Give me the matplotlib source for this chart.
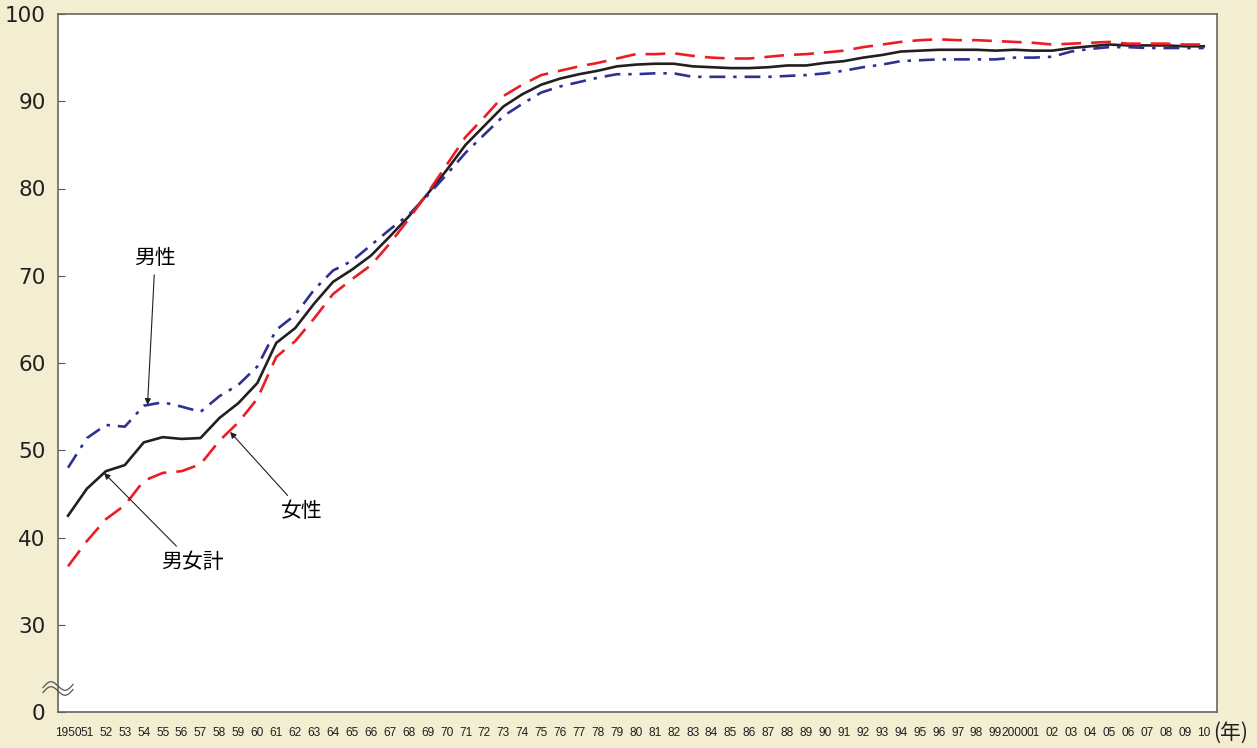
import numpy as np
import matplotlib
matplotlib.use('Agg')
import matplotlib.pyplot as plt
from matplotlib.lines import Line2D

# Data (high school entrance rate, %)
years = list(range(1950, 2011))
total = [42.5, 45.6, 47.6, 48.3, 50.9, 51.5, 51.3, 51.4, 53.7, 55.4,
         57.7, 62.3, 64.0, 66.8, 69.3, 70.7, 72.3, 74.5, 76.8, 79.4,
         82.1, 85.0, 87.2, 89.4, 90.8, 91.9, 92.6, 93.1, 93.5, 94.0,
         94.2, 94.3, 94.3, 94.0, 93.9, 93.8, 93.8, 93.9, 94.1, 94.1,
         94.4, 94.6, 95.0, 95.3, 95.7, 95.8, 95.9, 95.9, 95.9, 95.8,
         95.9, 95.8, 95.8, 96.1, 96.3, 96.5, 96.4, 96.4, 96.4, 96.3,
         96.3]
male = [48.0, 51.4, 52.9, 52.7, 55.1, 55.5, 55.0, 54.4, 56.2, 57.5,
        59.6, 63.8, 65.5, 68.4, 70.6, 71.7, 73.5, 75.3, 77.0, 79.2,
        81.6, 84.1, 86.2, 88.3, 89.7, 91.0, 91.7, 92.2, 92.7, 93.1,
        93.1, 93.2, 93.2, 92.8, 92.8, 92.8, 92.8, 92.8, 92.9, 93.0,
        93.2, 93.5, 93.9, 94.2, 94.6, 94.7, 94.8, 94.8, 94.8, 94.8,
        95.0, 95.0, 95.1, 95.7, 96.0, 96.2, 96.2, 96.1, 96.1, 96.1,
        96.1]
female = [36.7, 39.6, 42.1, 43.7, 46.5, 47.4, 47.6, 48.4, 51.1, 53.2,
          55.9, 60.7, 62.5, 65.1, 67.9, 69.6, 71.2, 73.7, 76.5, 79.5,
          82.7, 85.9, 88.2, 90.6, 91.9, 93.0, 93.5, 94.0, 94.4, 94.9,
          95.4, 95.4, 95.5, 95.2, 95.0, 94.9, 94.9, 95.1, 95.3, 95.4,
          95.6, 95.8, 96.2, 96.5, 96.8, 97.0, 97.1, 97.0, 97.0, 96.9,
          96.8, 96.7, 96.5, 96.6, 96.7, 96.8, 96.6, 96.6, 96.6, 96.5,
          96.5]

ytick_pos = [20, 30, 40, 50, 60, 70, 80, 90, 100]
ytick_labels = ['0', '30', '40', '50', '60', '70', '80', '90', '100']
xtick_labels = ['1950' if y == 1950 else '2000' if y == 2000 else '%02d' % (y % 100)
                for y in years]

BG = '#F3EDD1'
plt.rcParams['font.family'] = ['Noto Sans CJK JP', 'DejaVu Sans']

fig = plt.figure(figsize=(12.57, 7.48), dpi=100, facecolor=BG)
ax = fig.add_axes([58 / 1257, 1 - 712 / 748, (1217 - 58) / 1257, (712 - 14) / 748])
ax.set_facecolor('white')

ax.plot(years, total, color='#231F20', lw=1.9, solid_joinstyle='round')
l_m, = ax.plot(years, male, color='#2E3192', lw=1.9)
l_m.set_dashes([6.0, 3.0, 1.3, 3.0])
l_f, = ax.plot(years, female, color='#ED1C24', lw=1.9)
l_f.set_dashes([7.5, 3.8])

ax.set_xlim(1949.47, 2010.7)
ax.set_ylim(20, 100)

ax.set_yticks(ytick_pos)
ax.set_yticklabels(ytick_labels, fontsize=15.5, family='DejaVu Sans', color='#231F20')
ax.tick_params(axis='y', direction='in', length=5, width=0.8, color='#555555', pad=9)

ax.set_xticks(years)
ax.set_xticklabels(xtick_labels, fontsize=8.6, family='Liberation Sans', color='#231F20')
ax.tick_params(axis='x', length=0, pad=11)

for side in ['left', 'bottom', 'top', 'right']:
    ax.spines[side].set_color('#666666')
    ax.spines[side].set_linewidth(1.2)

fig.text(1231 / 1257, 1 - 733 / 748, '(年)', fontsize=15, ha='center', va='center',
         color='#231F20')

arrow = dict(arrowstyle='-|>', lw=0.8, color='#231F20', mutation_scale=9,
             shrinkA=2, shrinkB=0)
ax.annotate('男性', xy=(1954.2, 55.2), xytext=(1954.6, 72.0), fontsize=15,
            ha='center', va='center', arrowprops=arrow)
ax.annotate('女性', xy=(1958.56, 52.1), xytext=(1962.36, 43.0), fontsize=15,
            ha='center', va='center', arrowprops=arrow)
ax.annotate('男女計', xy=(1951.9, 47.4), xytext=(1956.55, 37.2), fontsize=15,
            ha='center', va='center', arrowprops=arrow)

# axis break mark
t = np.linspace(0, 1, 60)
for off in (0, 5):
    xs = (43 + 30 * t) / 1257
    ys = 1 - (686 + off - 5 * np.sin(2 * np.pi * t) - 3 * (t - 0.5)) / 748
    fig.add_artist(Line2D(xs, ys, color='#555555', lw=0.9, transform=fig.transFigure))

fig.savefig('out.png', dpi=100, facecolor=BG)
